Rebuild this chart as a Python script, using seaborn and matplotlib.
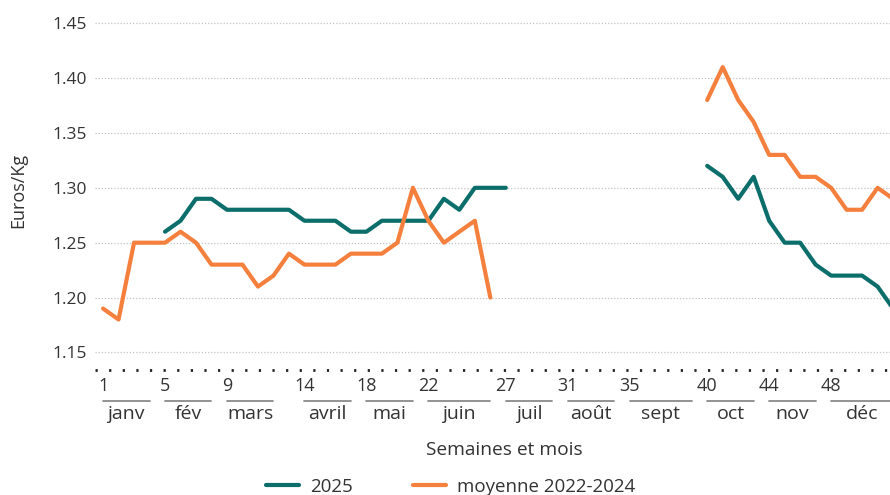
import pandas as pd
import matplotlib
import matplotlib.pyplot as plt
import matplotlib.transforms as mtransforms
from matplotlib.lines import Line2D
import seaborn as sns

matplotlib.use("Agg")

# Data
semaines = list(range(1, 53))
prix_2025 = ([None] * 4 +
             [1.26, 1.27, 1.29, 1.29, 1.28, 1.28, 1.28, 1.28, 1.28, 1.27, 1.27, 1.27,
              1.26, 1.26, 1.27, 1.27, 1.27, 1.27, 1.29, 1.28, 1.30, 1.30, 1.30] +
             [None] * 12 +
             [1.32, 1.31, 1.29, 1.31, 1.27, 1.25, 1.25, 1.23, 1.22, 1.22, 1.22, 1.21, 1.19])
prix_moyenne = ([1.19, 1.18, 1.25, 1.25, 1.25, 1.26, 1.25, 1.23, 1.23, 1.23, 1.21, 1.22, 1.24,
                 1.23, 1.23, 1.23, 1.24, 1.24, 1.24, 1.25, 1.30, 1.27, 1.25, 1.26, 1.27, 1.20] +
                [None] * 13 +
                [1.38, 1.41, 1.38, 1.36, 1.33, 1.33, 1.31, 1.31, 1.30, 1.28, 1.28, 1.30, 1.29])

series_names = ["2025", "moyenne 2022-2024"]
series_colors = ["#0b6e6a", "#f5803e"]

week_ticks = [1, 5, 9, 14, 18, 22, 27, 31, 35, 40, 44, 48]
mois = ["janv", "fév", "mars", "avril", "mai", "juin", "juil", "août", "sept", "oct", "nov", "déc"]
mois_debut = [1, 5, 9, 14, 18, 22, 27, 31, 35, 40, 44, 48]
mois_fin = [4, 8, 12, 17, 21, 26, 30, 34, 39, 43, 47, 52]

y_ticks = [1.15, 1.20, 1.25, 1.30, 1.35, 1.40, 1.45]

# Build long table with segment ids so gaps stay gaps
rows = []
for name, values in zip(series_names, [prix_2025, prix_moyenne]):
    seg = 0
    prev = None
    for w, v in zip(semaines, values):
        if v is None:
            prev = None
            continue
        if prev is None:
            seg += 1
        rows.append({"semaine": w, "prix": v, "serie": name, "segment": f"{name}-{seg}"})
        prev = v
df = pd.DataFrame(rows)

sns.set_theme(style="white")
plt.rcParams["font.family"] = ["Open Sans", "DejaVu Sans"]
text_color = "#333333"

fig = plt.figure(figsize=(8.9, 4.95), dpi=100)
ax = fig.add_axes([95 / 890, 1 - 370 / 495, 1 - 95 / 890, 349 / 495])

sns.lineplot(data=df, x="semaine", y="prix", hue="serie", units="segment",
             estimator=None, palette=dict(zip(series_names, series_colors)),
             linewidth=3, legend=False, ax=ax, sort=True)

ax.set_xlim(0.48, 51.8)
ax.set_ylim(1.134, 1.452)

# dotted grid
ax.set_yticks(y_ticks)
ax.set_yticklabels([f"{t:.2f}" for t in y_ticks], fontsize=12.5, color=text_color)
for t in y_ticks:
    ax.axhline(t, color="#c4c4c4", lw=0.9, linestyle=(0, (1, 1.5)), zorder=0)
ax.axhline(1.134, color="#222222", lw=2, linestyle=(0, (0.8, 4.1)), zorder=3, clip_on=False)

ax.set_xticks(week_ticks)
ax.set_xticklabels([str(w) for w in week_ticks], fontsize=13, color=text_color)
ax.tick_params(axis="both", length=0)
ax.tick_params(axis="x", pad=5)
ax.tick_params(axis="y", pad=6)
for s in ax.spines.values():
    s.set_visible(False)
ax.set_xlabel("")
ax.set_ylabel("")

# month brackets under week numbers
trans = mtransforms.blended_transform_factory(ax.transData, fig.transFigure)
for name, d, f in zip(mois, mois_debut, mois_fin):
    ax.add_line(Line2D([d, f], [1 - 401 / 495] * 2, transform=trans, color="#8a8a8a",
                       lw=1.3, clip_on=False))
    ax.text((d + f) / 2, 1 - 414 / 495, name, transform=trans, ha="center", va="center",
            fontsize=14, color=text_color, clip_on=False)

fig.text(504 / 890, 1 - 450 / 495, "Semaines et mois", ha="center", va="center",
         fontsize=13.8, color=text_color)
fig.text(18 / 890, 1 - 190 / 495, "Euros/Kg", rotation=90, ha="center", va="center",
         fontsize=13, color=text_color)

handles = [Line2D([], [], color=c, lw=3) for c in series_colors]
fig.legend(handles, series_names, loc="center", bbox_to_anchor=(451 / 890, 1 - 487 / 495),
           ncol=2, frameon=False, fontsize=13.5, handlelength=1.75, handletextpad=0.6,
           columnspacing=3.2, labelcolor=text_color)

fig.savefig("out.png", dpi=100)
